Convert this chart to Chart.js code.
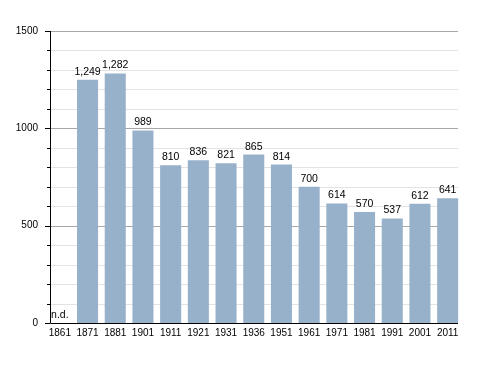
<!DOCTYPE html>
<html>
<head>
<meta charset="utf-8">
<script src="https://cdn.jsdelivr.net/npm/chart.js@4"></script>
<style>
  body { margin: 0; background: #fff; }
  canvas { display: block; }
</style>
</head>
<body>
<canvas id="myChart" width="488" height="373"></canvas>
<script>
// data
const years = ['1861', '1871', '1881', '1901', '1911', '1921', '1931', '1936', '1951', '1961', '1971', '1981', '1991', '2001', '2011'];
const population = [null, 1249, 1282, 989, 810, 836, 821, 865, 814, 700, 614, 570, 537, 612, 641];
const yTicks = [0, 500, 1000, 1500];

const FONT = 'Liberation Sans, Arial, Helvetica, sans-serif';

// grid + axes drawn from the y scale, limited to 50..458 like the original
const axesPlugin = {
    id: 'axes',
    beforeDatasetsDraw(chart) {
        const ctx = chart.ctx;
        const y = chart.scales.y;
        ctx.save();
        for (let v = 100; v <= 1500; v += 100) {
            const py = Math.round(y.getPixelForValue(v)) + 0.5;
            ctx.strokeStyle = yTicks.includes(v) ? '#a8a8a8' : '#e3e3e3';
            ctx.lineWidth = 1;
            ctx.beginPath();
            ctx.moveTo(50, py);
            ctx.lineTo(458, py);
            ctx.stroke();
        }
        ctx.restore();
    },
    afterDatasetsDraw(chart) {
        const ctx = chart.ctx;
        const x = chart.scales.x;
        const y = chart.scales.y;
        const y0 = Math.round(y.getPixelForValue(0)) + 0.5;
        ctx.save();
        ctx.strokeStyle = '#000';
        ctx.lineWidth = 1;
        ctx.beginPath();
        ctx.moveTo(50.5, Math.round(y.getPixelForValue(1500)));
        ctx.lineTo(50.5, y0);
        ctx.lineTo(458, y0);
        ctx.stroke();
        for (let v = 0; v <= 1500; v += 100) {
            const py = Math.round(y.getPixelForValue(v)) + 0.5;
            ctx.beginPath();
            ctx.moveTo(yTicks.includes(v) ? 45 : 47, py);
            ctx.lineTo(50, py);
            ctx.stroke();
        }
        // value labels
        ctx.fillStyle = '#000';
        ctx.font = '10.5px ' + FONT;
        ctx.textAlign = 'center';
        ctx.textBaseline = 'alphabetic';
        population.forEach(function(val, i) {
            const px = x.getPixelForValue(i);
            if (val === null) {
                ctx.fillText('n.d.', px, y.getPixelForValue(0) - 5);
            } else {
                ctx.fillText(val.toLocaleString('en-US'), px, y.getPixelForValue(val) - 5);
            }
        });
        ctx.restore();
    }
};

const ctx = document.getElementById('myChart').getContext('2d');
const myChart = new Chart(ctx, {
    type: 'bar',
    data: {
        labels: years,
        datasets: [{
            data: population,
            backgroundColor: '#98b1cb',
            borderWidth: 0,
            barPercentage: 0.76,
            categoryPercentage: 1
        }]
    },
    options: {
        responsive: false,
        animation: false,
        devicePixelRatio: 1,
        layout: { padding: { top: 31, right: 26.5, bottom: 30, left: 0 } },
        plugins: { legend: { display: false }, tooltip: { enabled: false } },
        scales: {
            x: {
                grid: { display: false, drawTicks: false },
                border: { display: false },
                ticks: {
                    color: '#000',
                    font: { family: FONT, size: 10 },
                    padding: 4,
                    autoSkip: false,
                    maxRotation: 0
                },
                afterFit(scale) { scale.height = 20; }
            },
            y: {
                min: 0,
                max: 1500,
                grid: { display: false, drawTicks: false },
                border: { display: false },
                ticks: {
                    stepSize: 100,
                    color: '#000',
                    font: { family: FONT, size: 10 },
                    padding: 8,
                    callback: function(v) { return yTicks.includes(v) ? String(v) : ''; }
                },
                afterFit(scale) { scale.width = 46; }
            }
        }
    },
    plugins: [axesPlugin]
});
</script>
</body>
</html>
